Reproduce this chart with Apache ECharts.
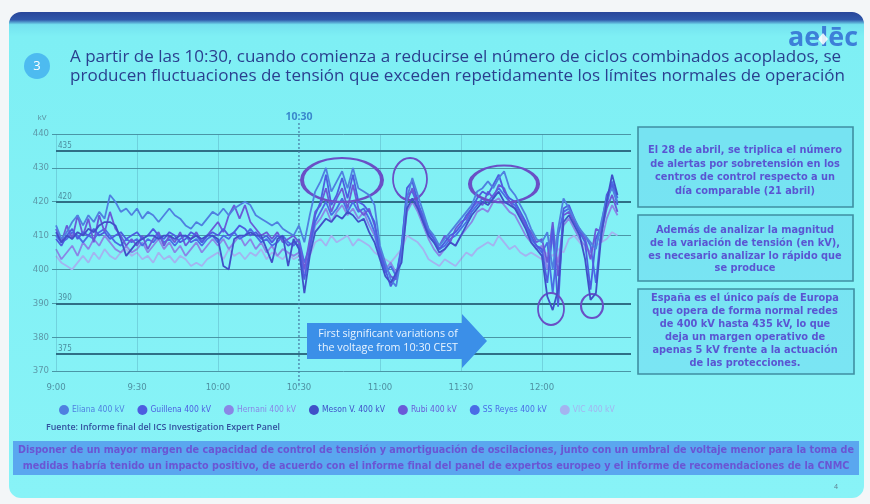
<!DOCTYPE html>
<html lang="es">
<head>
    <meta charset="UTF-8">
    <title>Fluctuaciones de tensión 28 abril</title>
    <script src="https://cdn.jsdelivr.net/npm/echarts@6/dist/echarts.min.js"></script>
    <style>
        html, body { margin: 0; padding: 0; background: #f3f6f8; }
        #chart { width: 870px; height: 504px; }
    </style>
</head>
<body>
<div id="chart"></div>
<script>
    // minutos desde las 9:00, una muestra cada 2 min (9:00 ... 12:28)
    const times = Array.from({length: 105}, (_, i) => i * 2);

    const stations = ['Eliana 400 kV', 'Guillena 400 kV', 'Hernani 400 kV', 'Meson V. 400 kV', 'Rubi 400 kV', 'SS Reyes 400 kV', 'VIC 400 kV'];
    const colors = ['#4f80e0', '#4d5de0', '#8a86e6', '#4050c8', '#6a5ad8', '#4a6ce6', '#a4b4f0'];

    const eliana = [
        413, 409, 411, 414, 416, 413, 416, 414, 417, 415, 422, 420, 417, 418, 416,
        418, 415, 417, 416, 414, 416, 418, 416, 415, 413, 412, 414, 413, 415, 417,
        416, 418, 416, 418, 419, 420, 419, 416, 415, 414, 413, 414, 412, 411, 410,
        413, 408, 416, 423, 426, 430, 423, 426, 429, 424, 430, 424, 423, 422, 419,
        407, 402, 397, 395, 404, 421, 427, 422, 417, 412, 410, 407, 409, 411, 413,
        415, 417, 419, 423, 424, 426, 424, 427, 429, 424, 422, 419, 416, 412, 409,
        408, 411, 400, 412, 421, 418, 415, 412, 410, 408, 406, 414, 421, 424, 420
    ];
    const guillena = [
        409, 407, 410, 412, 409, 411, 410, 412, 410, 411, 409, 410, 411, 409, 410,
        411, 409, 410, 412, 410, 409, 411, 410, 408, 409, 411, 410, 408, 410, 411,
        410, 412, 410, 411, 413, 412, 410, 411, 409, 410, 408, 410, 409, 407, 408,
        407, 397, 406, 416, 420, 428, 419, 422, 427, 421, 428, 420, 419, 417, 414,
        405, 400, 395, 398, 406, 424, 426, 420, 415, 411, 409, 406, 408, 410, 411,
        413, 416, 418, 421, 423, 422, 425, 428, 423, 421, 420, 417, 414, 410, 407,
        406, 396, 412, 389, 418, 419, 415, 411, 408, 394, 409, 413, 422, 425, 419
    ];
    const hernani = [
        406, 403, 405, 407, 404, 408, 406, 409, 407, 410, 408, 406, 405, 407, 405,
        406, 408, 405, 407, 409, 406, 408, 405, 407, 404, 406, 408, 405, 407, 409,
        407, 409, 406, 408, 410, 407, 409, 406, 408, 405, 407, 404, 406, 405, 404,
        405, 399, 405, 413, 415, 418, 414, 417, 419, 416, 418, 415, 417, 413, 410,
        404, 400, 402, 399, 404, 417, 420, 417, 413, 409, 406, 404, 406, 408, 407,
        410, 412, 414, 417, 418, 417, 420, 421, 419, 417, 416, 413, 410, 408, 406,
        407, 400, 409, 402, 413, 415, 412, 409, 407, 405, 410, 408, 415, 419, 416
    ];
    const mesonV = [
        411, 408, 410, 409, 411, 410, 412, 411, 413, 414, 414, 413, 409, 404, 406,
        408, 409, 410, 410, 409, 410, 410, 409, 410, 410, 409, 410, 409, 410, 410,
        409, 401, 400, 409, 410, 410, 411, 410, 410, 406, 402, 409, 410, 401, 409,
        406, 393, 404, 411, 413, 415, 414, 416, 415, 417, 416, 414, 415, 411, 408,
        403, 398, 396, 399, 402, 418, 421, 418, 414, 410, 408, 405, 406, 408, 407,
        410, 413, 416, 418, 420, 419, 421, 423, 420, 419, 418, 415, 412, 408, 406,
        404, 392, 388, 394, 414, 416, 413, 410, 403, 391, 393, 410, 420, 428, 422
    ];
    const rubi = [
        412, 408, 413, 409, 416, 410, 415, 408, 416, 411, 417, 412, 410, 407, 409,
        407, 410, 406, 409, 411, 407, 410, 408, 411, 407, 409, 411, 408, 410, 412,
        414, 411, 416, 419, 415, 419, 414, 412, 410, 411, 409, 411, 408, 409, 410,
        408, 400, 409, 417, 419, 424, 417, 421, 424, 418, 425, 418, 416, 418, 413,
        406, 401, 398, 397, 405, 420, 424, 419, 416, 412, 409, 407, 410, 408, 412,
        414, 415, 418, 420, 419, 423, 421, 425, 424, 420, 418, 416, 413, 411, 408,
        409, 402, 414, 398, 416, 417, 414, 412, 409, 403, 412, 411, 418, 422, 417
    ];
    const ssReyes = [
        410, 408, 409, 411, 410, 408, 410, 409, 411, 412, 410, 408, 407, 409, 408,
        409, 407, 409, 408, 410, 408, 409, 407, 409, 410, 408, 409, 407, 409, 410,
        408, 410, 409, 411, 409, 410, 412, 410, 408, 409, 407, 408, 410, 408, 407,
        409, 402, 407, 414, 417, 420, 416, 418, 421, 417, 420, 417, 418, 415, 411,
        404, 399, 401, 398, 407, 422, 423, 419, 414, 410, 408, 406, 407, 409, 410,
        412, 414, 417, 419, 421, 420, 422, 424, 422, 420, 419, 416, 413, 409, 407,
        405, 408, 393, 410, 417, 418, 414, 411, 410, 407, 396, 412, 419, 426, 421
    ];
    const vic = [
        404, 402, 401, 400, 402, 404, 402, 405, 403, 406, 404, 403, 405, 406, 404,
        405, 403, 404, 402, 405, 403, 404, 402, 404, 403, 401, 402, 401, 403, 404,
        405, 403, 406, 404, 405, 403, 405, 404, 406, 403, 405, 404, 403, 405, 403,
        404, 401, 404, 408, 409, 407, 410, 408, 409, 410, 407, 409, 408, 407, 405,
        404, 403, 402, 404, 406, 410, 409, 408, 406, 403, 402, 401, 403, 402, 401,
        403, 405, 404, 406, 407, 408, 407, 410, 408, 406, 407, 405, 404, 405, 404,
        403, 405, 404, 406, 405, 409, 410, 408, 406, 405, 407, 408, 409, 411, 410
    ];
    const values = [eliana, guillena, hernani, mesonV, rubi, ssReyes, vic];

    const limits = [435, 420, 390, 375];
    const hourLines = [0, 30, 60, 120, 150, 180];
    const start1030 = 90;

    const titleLines = [
        'A partir de las 10:30, cuando comienza a reducirse el número de ciclos combinados acoplados, se',
        'producen fluctuaciones de tensión que exceden repetidamente los límites normales de operación'
    ];
    const boxTexts = [
        ['El 28 de abril, se triplica el número', 'de alertas por sobretensión en los', 'centros de control respecto a un', 'día comparable (21 abril)'],
        ['Además de analizar la magnitud', 'de la variación de tensión (en kV),', 'es necesario analizar lo rápido que', 'se produce'],
        ['España es el único país de Europa', 'que opera de forma normal redes', 'de 400 kV hasta 435 kV, lo que', 'deja un margen operativo de', 'apenas 5 kV frente a la actuación', 'de las protecciones.']
    ];
    const bannerLines = [
        'Disponer de un mayor margen de capacidad de control de tensión y amortiguación de oscilaciones, junto con un umbral de voltaje menor para la toma de',
        'medidas habría tenido un impacto positivo, de acuerdo con el informe final del panel de expertos europeo y el informe de recomendaciones de la CNMC'
    ];
    const arrowLines = ['First significant variations of', 'the voltage from 10:30 CEST'];
    const sourceText = 'Fuente: Informe final del ICS Investigation Expert Panel';

    const narrow = "'Liberation Sans Narrow', 'DejaVu Sans Condensed', sans-serif";

    // tamaño de letra para que un texto ocupe un ancho dado
    const measure = document.createElement('canvas').getContext('2d');
    function fitSize(lines, weight, family, width) {
        measure.font = weight + ' 100px ' + family;
        let w = 0;
        lines.forEach(l => { w = Math.max(w, measure.measureText(l).width); });
        return 100 * width / w;
    }

    function label(text, x, y, size, color, opts) {
        opts = opts || {};
        return {
            type: 'text', x: x, y: y, z: opts.z || 5,
            style: {
                text: text, fill: color,
                font: (opts.weight || 'normal') + ' ' + size.toFixed(2) + 'px ' + (opts.family || "'Open Sans', sans-serif"),
                textAlign: opts.align || 'left', textVerticalAlign: 'middle'
            }
        };
    }

    let chart = echarts.init(document.getElementById('chart'));

    // fondo de la diapositiva
    let graphics = [
        {
            type: 'rect', z: -5, shape: {x: 9, y: 12, width: 855, height: 486, r: 12},
            style: {
                fill: new echarts.graphic.LinearGradient(0, 0, 0, 1, [
                    {offset: 0, color: '#28469a'},
                    {offset: 0.016, color: '#2f57aa'},
                    {offset: 0.026, color: '#74e2f0'},
                    {offset: 0.05, color: '#7eeff4'},
                    {offset: 1, color: '#88f3f7'}
                ])
            }
        },
        {type: 'rect', z: -4, shape: {x: 13, y: 441, width: 846, height: 34}, style: {fill: '#5aa7ef'}}
    ];

    // cabecera
    const titleSize = fitSize([titleLines[0]], 'normal', "'Open Sans'", 772);
    graphics.push({type: 'circle', z: 5, shape: {cx: 37, cy: 66, r: 13}, style: {fill: '#4dbbf0'}});
    graphics.push(label('3', 37, 66, 13, '#ffffff', {align: 'center'}));
    graphics.push(label(titleLines[0], 70, 57, titleSize, '#2a3f8f'));
    graphics.push(label(titleLines[1], 70, 76, titleSize, '#2a3f8f'));
    graphics.push(label('aelēc', 823, 38, fitSize(['aelēc'], 'bold', "'Open Sans'", 70), '#3d7fd8', {align: 'center', weight: 'bold'}));
    graphics.push({type: 'polygon', z: 6, shape: {points: [[823, 33], [828, 39], [823, 45], [818, 39]]}, style: {fill: 'rgba(255,255,255,0.85)'}});

    // cuadros de la derecha
    const boxes = [[638, 127, 215, 80], [638, 215, 215, 66], [638, 289, 216, 85]];
    const boxLineY = [[150, 164, 177, 191], [230, 243, 256, 268], [298, 311, 324, 337, 350, 363]];
    const boxSize = fitSize([boxTexts[0][0]], 'bold', "'DejaVu Sans'", 194);
    boxes.forEach((b, i) => {
        graphics.push({
            type: 'rect', z: 1, shape: {x: b[0], y: b[1], width: b[2], height: b[3]},
            style: {fill: 'rgba(70,170,235,0.18)', stroke: '#3f8fa2', lineWidth: 1.6}
        });
        boxTexts[i].forEach((t, j) => {
            graphics.push(label(t, 745, boxLineY[i][j], boxSize, '#5a55d2', {align: 'center', weight: 'bold', family: "'DejaVu Sans', sans-serif"}));
        });
    });

    // banda inferior
    const bannerSize = fitSize([bannerLines[0]], 'bold', "'DejaVu Sans Condensed'", 836);
    graphics.push(label(bannerLines[0], 436, 450, bannerSize, '#6a55d4', {align: 'center', weight: 'bold', family: "'DejaVu Sans Condensed', sans-serif"}));
    graphics.push(label(bannerLines[1], 436, 466, bannerSize, '#6a55d4', {align: 'center', weight: 'bold', family: "'DejaVu Sans Condensed', sans-serif"}));
    graphics.push(label('4', 836, 487, 7, '#5f7f90', {align: 'center'}));

    // fuente y unidad
    graphics.push(label(sourceText, 46, 427, fitSize([sourceText], '600', "'Open Sans'", 234), '#33509e', {weight: '600'}));
    graphics.push(label('kV', 42, 118, 8, '#5a90a0', {align: 'center'}));

    // flecha
    graphics.push({
        type: 'polygon', z: 8,
        shape: {points: [[307, 323], [462, 323], [462, 314], [487, 341], [462, 368], [462, 359], [307, 359]]},
        style: {fill: '#3b8fe8'}
    });
    const arrowSize = fitSize(arrowLines, 'normal', "'Open Sans'", 140);
    graphics.push(label(arrowLines[0], 388, 334, arrowSize, '#e8f4ff', {align: 'center', z: 9}));
    graphics.push(label(arrowLines[1], 388, 348, arrowSize, '#e8f4ff', {align: 'center', z: 9}));

    // elipses de los picos
    const ellipses = [[342, 180, 40, 22], [410, 179, 17, 21], [504, 184, 34, 18.5], [551, 309, 13, 16], [592, 306, 11, 12]];
    ellipses.forEach(e => {
        graphics.push({
            type: 'circle', z: 8, x: e[0], y: e[1], scaleX: e[2] / e[3],
            shape: {cx: 0, cy: 0, r: e[3]},
            style: {fill: 'none', stroke: '#6a4fc6', lineWidth: 2.2, strokeNoScale: true}
        });
    });

    // líneas verticales y límites de tensión
    let marks = hourLines.map(h => ({
        xAxis: h, lineStyle: {color: 'rgba(70,140,165,0.3)', width: 1, type: 'solid'}, label: {show: false}
    }));
    limits.forEach(l => marks.push({
        yAxis: l, lineStyle: {color: '#2f6f86', width: 2, type: 'solid'},
        label: {show: true, position: 'insideStartTop', formatter: String(l), distance: [2, 1], color: '#4c8ea0', fontSize: 8, fontFamily: narrow}
    }));

    const drawOrder = [6, 2, 5, 4, 1, 0, 3];
    let series = drawOrder.map((k, n) => ({
        name: stations[k],
        type: 'line',
        showSymbol: false,
        symbol: 'none',
        color: colors[k],
        lineStyle: {width: 1.8, color: colors[k]},
        emphasis: {disabled: true},
        data: values[k].map((v, i) => [times[i], v]),
        markLine: n === 0 ? {silent: true, symbol: ['none', 'none'], animation: false, data: marks} : undefined,
        z: 3 + n
    }));

    let option = {
        animation: false,
        backgroundColor: '#f3f6f8',
        grid: {left: 56, right: 239, top: 134, bottom: 133},
        xAxis: {
            type: 'value', min: 0, max: 213, interval: 30,
            axisLine: {show: false}, axisTick: {show: false}, splitLine: {show: false},
            axisLabel: {
                margin: 12, color: '#4f90a2', fontSize: 9.5, fontFamily: narrow,
                formatter: v => v > 180 ? '' : Math.floor(9 + v / 60) + ':' + String(v % 60).padStart(2, '0')
            }
        },
        yAxis: {
            type: 'value', min: 370, max: 440, interval: 10,
            axisLine: {show: false},
            axisTick: {show: true, length: 4, lineStyle: {color: '#4a96a6'}},
            axisLabel: {margin: 7, color: '#5d98a8', fontSize: 9.5, fontFamily: narrow},
            splitLine: {lineStyle: {color: '#4a96a6', width: 1}}
        },
        legend: {
            left: 54, top: 400, itemWidth: 10, itemHeight: 10, itemGap: 13, icon: 'circle',
            textStyle: {fontSize: 8.5, fontFamily: narrow, padding: [0, 0, 0, -2]},
            data: stations.map((s, i) => ({name: s, textStyle: {color: colors[i]}}))
        },
        graphic: graphics,
        series: series
    };
    chart.setOption(option);

    // línea punteada de las 10:30
    const x1030 = chart.convertToPixel({xAxisIndex: 0}, start1030);
    graphics.push({type: 'line', z: 7, shape: {x1: x1030, y1: 123, x2: x1030, y2: 385}, style: {stroke: '#4a7fa8', lineWidth: 1.3, lineDash: [2, 2]}});
    graphics.push(label('10:30', x1030, 117, 10.5, '#3a88cc', {align: 'center', weight: 'bold'}));
    chart.setOption({graphic: graphics});
</script>
</body>
</html>
